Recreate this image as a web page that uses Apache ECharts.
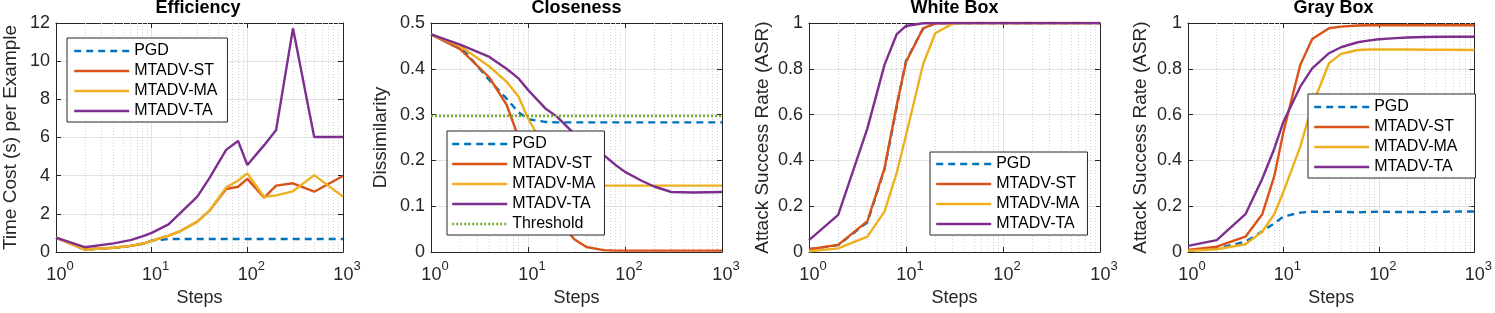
<!DOCTYPE html>
<html><head><meta charset="utf-8">
<script src="https://cdn.jsdelivr.net/npm/echarts@6/dist/echarts.min.js"></script>
<style>html,body{margin:0;padding:0;background:#fff}#c{width:1495px;height:313px}</style>
</head><body><div id="c"></div>
<script>
// ---- data ----
const steps = [1, 2, 4, 6, 8, 10, 15, 20, 30, 40, 60, 80, 100, 150, 200, 300, 500, 1000];
const seriesNames = ['PGD', 'MTADV-ST', 'MTADV-MA', 'MTADV-TA'];
const thresholdName = 'Threshold';
const panelTitles = ['Efficiency', 'Closeness', 'White Box', 'Gray Box'];
const yAxisNames = ['Time Cost (s) per Example', 'Dissimilarity', 'Attack Success Rate (ASR)', 'Attack Success Rate (ASR)'];
const xAxisName = 'Steps';

// Efficiency (time cost, s)
const effPGD = [0.75, 0.13, 0.22, 0.32, 0.43, 0.6, 0.68, 0.68, 0.68, 0.68, 0.68, 0.68, 0.68, 0.68, 0.68, 0.68, 0.68, 0.68];
const effST  = [0.75, 0.13, 0.22, 0.32, 0.43, 0.58, 0.86, 1.1, 1.59, 2.15, 3.3, 3.42, 3.83, 2.85, 3.48, 3.6, 3.16, 3.98];
const effMA  = [0.75, 0.13, 0.22, 0.32, 0.43, 0.58, 0.86, 1.1, 1.59, 2.15, 3.38, 3.75, 4.12, 2.88, 2.97, 3.18, 4.03, 2.9];
const effTA  = [0.75, 0.25, 0.45, 0.62, 0.82, 1.0, 1.45, 2.05, 2.9, 3.86, 5.35, 5.82, 4.56, 5.6, 6.39, 11.72, 6.03, 6.03];

// Closeness (dissimilarity)
const cloPGD = [0.475, 0.45, 0.375, 0.335, 0.305, 0.29, 0.284, 0.283, 0.283, 0.283, 0.283, 0.283, 0.283, 0.283, 0.283, 0.283, 0.283, 0.283];
const cloST  = [0.475, 0.443, 0.381, 0.322, 0.25, 0.2, 0.12, 0.072, 0.028, 0.011, 0.004, 0.003, 0.003, 0.003, 0.003, 0.003, 0.003, 0.003];
const cloMA  = [0.475, 0.45, 0.405, 0.372, 0.339, 0.292, 0.225, 0.18, 0.152, 0.146, 0.145, 0.145, 0.145, 0.145, 0.145, 0.145, 0.145, 0.145];
const cloTA  = [0.475, 0.453, 0.426, 0.4, 0.379, 0.354, 0.314, 0.295, 0.258, 0.238, 0.212, 0.19, 0.175, 0.155, 0.143, 0.131, 0.13, 0.131];
const threshSteps = [1, 1000];
const threshVals  = [0.297, 0.297];

// White box ASR
const wbPGD = [0.012, 0.03, 0.13, 0.36, 0.63, 0.835, 0.975, 0.998, 1, 1, 1, 1, 1, 1, 1, 1, 1, 1];
const wbST  = [0.012, 0.031, 0.135, 0.365, 0.64, 0.83, 0.977, 0.998, 1, 1, 1, 1, 1, 1, 1, 1, 1, 1];
const wbMA  = [0.003, 0.016, 0.067, 0.176, 0.344, 0.51, 0.82, 0.955, 0.996, 1, 1, 1, 1, 1, 1, 1, 1, 1];
const wbTA  = [0.052, 0.162, 0.54, 0.817, 0.95, 0.987, 0.999, 1, 1, 1, 1, 1, 1, 1, 1, 1, 1, 1];

// Gray box ASR
const gbPGD = [0.005, 0.015, 0.045, 0.09, 0.125, 0.155, 0.172, 0.176, 0.175, 0.176, 0.173, 0.175, 0.176, 0.175, 0.175, 0.174, 0.176, 0.177];
const gbST  = [0.009, 0.023, 0.067, 0.165, 0.33, 0.525, 0.817, 0.93, 0.977, 0.984, 0.989, 0.99, 0.99, 0.99, 0.99, 0.99, 0.99, 0.99];
const gbMA  = [0.005, 0.012, 0.034, 0.089, 0.165, 0.263, 0.46, 0.64, 0.824, 0.865, 0.882, 0.884, 0.885, 0.884, 0.884, 0.883, 0.883, 0.882];
const gbTA  = [0.027, 0.052, 0.165, 0.32, 0.45, 0.569, 0.722, 0.802, 0.868, 0.894, 0.916, 0.924, 0.929, 0.934, 0.937, 0.939, 0.94, 0.94];

// y axis ranges / tick intervals
const yMins = [0, 0, 0, 0];
const yMaxs = [12, 0.5, 1, 1];
const yIntervals = [2, 0.1, 0.2, 0.2];
const minorSteps = [2,3,4,5,6,7,8,9,20,30,40,50,60,70,80,90,200,300,400,500,600,700,800,900];

const panelData = [
  [effPGD, effST, effMA, effTA],
  [cloPGD, cloST, cloMA, cloTA],
  [wbPGD, wbST, wbMA, wbTA],
  [gbPGD, gbST, gbMA, gbTA]
];

// ---- style / layout ----
const FONT = '"Liberation Sans", Arial, Helvetica, sans-serif';
const colors = {'PGD': '#0072BD', 'MTADV-ST': '#D95319', 'MTADV-MA': '#EDB120', 'MTADV-TA': '#7E2F8E', 'Threshold': '#77AC30'};
const AX = '#262626';
const LW = 2.4;
const grids = [
  {left: 53, top: 23, width: 290, height: 229},
  {left: 431, top: 23, width: 291, height: 229},
  {left: 809, top: 23, width: 291, height: 229},
  {left: 1188, top: 23, width: 291, height: 229}
];
const yNameGaps = [36, 41, 37, 38];
const legendPos = [
  {left: 67, top: 38, padding: [5, 10, 3, 6]},
  {left: 447, top: 131, padding: [5, 9, 3, 4]},
  {left: 930, top: 152, padding: [4, 8, 3, 5]},
  {left: 1308, top: 94, padding: [5, 18, 3, 5]}
];

const xAxes = [], yAxes = [], series = [], titles = [], legends = [];
grids.forEach((g, gi) => {
  xAxes.push({
    gridIndex: gi, type: 'log', logBase: 10, min: 1, max: 1000, position: 'bottom',
    axisLine: {show: true, onZero: false, lineStyle: {color: AX, width: 1}},
    axisTick: {show: true, inside: true, length: 5, lineStyle: {color: AX}},
    axisLabel: {
      margin: 8, color: AX,
      formatter: v => '{p|}{b|10}{s|' + Math.round(Math.log10(v)) + '}',
      rich: {
        p: {width: 8},
        b: {fontSize: 18, fontFamily: FONT, color: AX, padding: [6, 0, 0, 0]},
        s: {fontSize: 13, fontFamily: FONT, color: AX, verticalAlign: 'top'}
      }
    },
    splitLine: {show: true, lineStyle: {color: '#e2e2e2', width: 1}},
    name: xAxisName, nameLocation: 'middle', nameGap: 36,
    nameTextStyle: {fontSize: 18, fontFamily: FONT, color: AX}
  });
  xAxes.push({
    gridIndex: gi, type: 'log', logBase: 10, min: 1, max: 1000, position: 'top',
    axisLine: {show: true, onZero: false, lineStyle: {color: AX, width: 1}},
    axisTick: {show: true, inside: true, length: 5, lineStyle: {color: AX}},
    axisLabel: {show: false}, splitLine: {show: false}
  });
  yAxes.push({
    gridIndex: gi, type: 'value', min: yMins[gi], max: yMaxs[gi], interval: yIntervals[gi], position: 'left',
    axisLine: {show: true, onZero: false, lineStyle: {color: AX, width: 1}},
    axisTick: {show: true, inside: true, length: 5, lineStyle: {color: AX}},
    axisLabel: {margin: 6, fontSize: 18, fontFamily: FONT, color: AX},
    splitLine: {show: true, lineStyle: {color: '#e2e2e2', width: 1}},
    name: yAxisNames[gi], nameLocation: 'middle', nameGap: yNameGaps[gi],
    nameTextStyle: {fontSize: 19, fontFamily: FONT, color: AX}
  });
  yAxes.push({
    gridIndex: gi, type: 'value', min: yMins[gi], max: yMaxs[gi], interval: yIntervals[gi], position: 'right',
    axisLine: {show: true, onZero: false, lineStyle: {color: AX, width: 1}},
    axisTick: {show: true, inside: true, length: 5, lineStyle: {color: AX}},
    axisLabel: {show: false}, splitLine: {show: false}
  });
  titles.push({
    text: panelTitles[gi], left: g.left + g.width / 2, top: -1, textAlign: 'center', padding: 0,
    textStyle: {fontSize: 18, fontWeight: 'bold', fontFamily: FONT, color: '#000'}
  });
  const arrs = panelData[gi];
  seriesNames.forEach((nm, si) => {
    const s = {
      type: 'line', name: nm, xAxisIndex: gi * 2, yAxisIndex: gi * 2,
      data: steps.map((x, i) => [x, arrs[si][i]]),
      symbol: 'none', showSymbol: false, smooth: false, z: 2 + si * 0.01,
      color: colors[nm],
      itemStyle: {color: colors[nm], opacity: 0},
      lineStyle: {width: LW, color: colors[nm], opacity: 1, type: nm === 'PGD' ? [7, 5] : 'solid'},
      emphasis: {disabled: true}
    };
    if (si === 0) {
      s.markLine = {
        silent: true, symbol: ['none', 'none'], z: 1, animation: false,
        label: {show: false}, emphasis: {disabled: true},
        lineStyle: {type: [1, 2], color: '#d2d2d2', width: 1, opacity: 1},
        data: minorSteps.map(v => ({xAxis: v}))
      };
    }
    series.push(s);
  });
  const names = seriesNames.slice();
  if (gi === 1) {
    names.push(thresholdName);
    series.push({
      type: 'line', name: thresholdName, xAxisIndex: 2, yAxisIndex: 2,
      data: threshSteps.map((x, i) => [x, threshVals[i]]),
      symbol: 'none', showSymbol: false, color: colors.Threshold, z: 2.1,
      itemStyle: {color: colors.Threshold, opacity: 0},
      lineStyle: {width: 2.4, color: colors.Threshold, opacity: 1, type: [2, 2]},
      emphasis: {disabled: true}
    });
  }
  const lp = legendPos[gi];
  legends.push({
    data: names.map(n => ({name: n, itemStyle: {opacity: 0}})),
    orient: 'vertical', left: lp.left, top: lp.top, padding: lp.padding,
    itemWidth: 55, itemHeight: 16, itemGap: 4,
    itemStyle: {opacity: 0},
    lineStyle: {width: LW, opacity: 1},
    backgroundColor: '#fff', borderColor: AX, borderWidth: 1, borderRadius: 0,
    selectedMode: false,
    textStyle: {fontSize: 16, fontFamily: FONT, color: '#000', lineHeight: 16}
  });
});

const chart = echarts.init(document.getElementById('c'), null, {renderer: 'canvas'});
chart.setOption({
  animation: false,
  backgroundColor: '#fff',
  textStyle: {fontFamily: FONT},
  title: titles,
  legend: legends,
  grid: grids.map(g => Object.assign({containLabel: false}, g)),
  xAxis: xAxes,
  yAxis: yAxes,
  series: series
});
</script>
</body></html>
